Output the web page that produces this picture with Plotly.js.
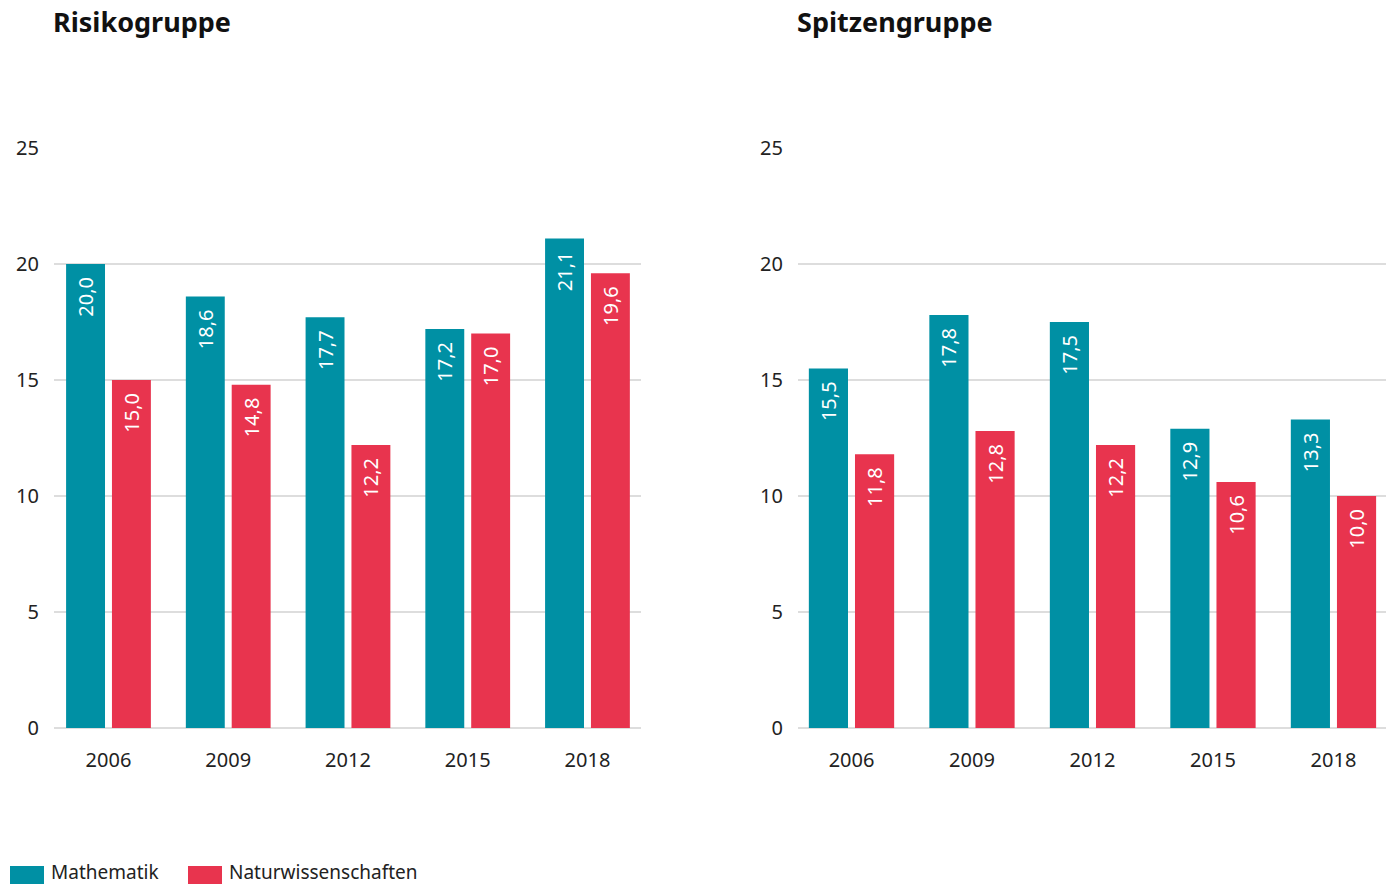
<!DOCTYPE html>
<html>
<head>
<meta charset="utf-8">
<script src="https://cdn.plot.ly/plotly-3.0.1.min.js"></script>
<style>html,body{margin:0;padding:0;background:#fff;}#chart{width:1392px;height:886px;}</style>
</head>
<body>
<div id="chart"></div>
<script>
const years = ['2006', '2009', '2012', '2015', '2018'];
const seriesNames = ['Mathematik', 'Naturwissenschaften'];
const panelTitles = ['Risikogruppe', 'Spitzengruppe'];
const risikoMathe = [20.0, 18.6, 17.7, 17.2, 21.1];
const risikoNatur = [15.0, 14.8, 12.2, 17.0, 19.6];
const spitzeMathe = [15.5, 17.8, 17.5, 12.9, 13.3];
const spitzeNatur = [11.8, 12.8, 12.2, 10.6, 10.0];
const colors = ['#0090a4', '#e8344e'];

const FONT = 'Noto Sans, Open Sans, sans-serif';
const W = 1392, H = 886;
const BAR_W = 0.325, OFFS = [-0.354, 0.029];

function barTrace(y, idx, xa, ya) {
  return {
    type: 'bar', x: years, y: y, name: seriesNames[idx], xaxis: xa, yaxis: ya,
    marker: {color: colors[idx]}, showlegend: false,
    width: BAR_W, offset: OFFS[idx],
    texttemplate: '%{y:.1f}\u2002', textposition: 'inside', insidetextanchor: 'end',
    textangle: -90, constraintext: 'none', cliponaxis: false,
    textfont: {color: '#ffffff', size: 20, family: FONT},
    hoverinfo: 'x+y'
  };
}

const data = [
  barTrace(risikoMathe, 0, 'x', 'y'),
  barTrace(risikoNatur, 1, 'x', 'y'),
  barTrace(spitzeMathe, 0, 'x2', 'y2'),
  barTrace(spitzeNatur, 1, 'x2', 'y2')
];

const yDomain = [(H - 728) / H, (H - 148) / H];
function yAxis(anchor) {
  return {
    domain: yDomain, anchor: anchor, range: [0, 25], tickvals: [0, 5, 10, 15, 20, 25],
    showgrid: true, gridcolor: '#dddddd', gridwidth: 2,
    zeroline: true, zerolinecolor: '#dddddd', zerolinewidth: 2,
    showline: false, ticks: '', ticklabelstandoff: 14,
    tickfont: {size: 20, color: '#222222', family: FONT}, fixedrange: true
  };
}
function xAxis(anchor, d0, d1, r0, r1) {
  return {
    domain: [d0 / W, d1 / W], anchor: anchor, type: 'category', range: [r0, r1],
    showgrid: false, zeroline: false, showline: false, ticks: '',
    ticklabelstandoff: 18, tickfont: {size: 20, color: '#222222', family: FONT}, fixedrange: true
  };
}

const legendSwatchX = [10, 188];
const legendTextX = [50, 228];
const shapes = [];
const annotations = [
  {text: '<b>' + panelTitles[0] + '</b>', xref: 'paper', yref: 'paper', x: 51 / W, y: 1 - 22 / H,
   xanchor: 'left', yanchor: 'middle', showarrow: false, font: {size: 27, color: '#111111', family: FONT}},
  {text: '<b>' + panelTitles[1] + '</b>', xref: 'paper', yref: 'paper', x: 795 / W, y: 1 - 22 / H,
   xanchor: 'left', yanchor: 'middle', showarrow: false, font: {size: 27, color: '#111111', family: FONT}}
];
seriesNames.forEach((n, i) => {
  shapes.push({type: 'rect', xref: 'paper', yref: 'paper',
    x0: legendSwatchX[i] / W, x1: (legendSwatchX[i] + 34) / W,
    y0: 1 - 884 / H, y1: 1 - 866 / H, fillcolor: colors[i], line: {width: 0}});
  annotations.push({text: n, xref: 'paper', yref: 'paper', x: legendTextX[i] / W, y: 1 - 872 / H,
    xanchor: 'left', yanchor: 'middle', showarrow: false, borderpad: 0,
    font: {size: 19, color: '#222222', family: FONT}});
});

const layout = {
  width: W, height: H, margin: {l: 0, r: 0, t: 0, b: 0},
  paper_bgcolor: '#ffffff', plot_bgcolor: '#ffffff',
  separators: ',.',
  barmode: 'group',
  font: {family: FONT, color: '#222222'},
  xaxis: xAxis('y', 54, 641, -0.455, 4.447),
  yaxis: yAxis('x'),
  xaxis2: xAxis('y2', 798, 1386, -0.444, 4.436),
  yaxis2: yAxis('x2'),
  showlegend: false,
  shapes: shapes,
  annotations: annotations
};

Plotly.newPlot('chart', data, layout, {displayModeBar: false, staticPlot: true});
</script>
</body>
</html>
